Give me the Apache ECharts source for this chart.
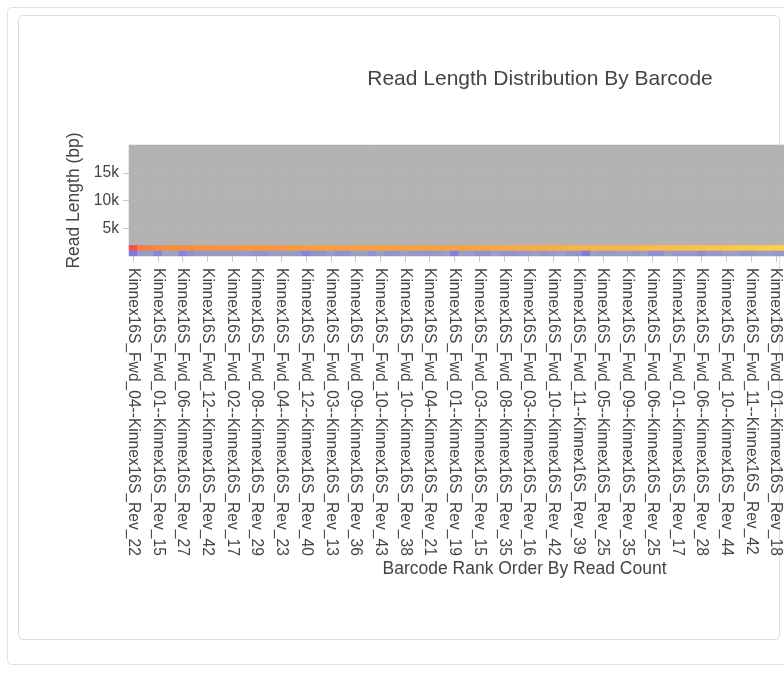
<!DOCTYPE html>
<html>
<head>
<meta charset="utf-8">
<script src="https://cdn.jsdelivr.net/npm/echarts@6/dist/echarts.min.js"></script>
<style>
  html, body { margin: 0; padding: 0; background: #fff; overflow: hidden; width: 784px; height: 687px; }
  .outer { position: absolute; left: 7px; top: 7px; width: 1200px; height: 658px; border: 1px solid #e2e2e2; border-radius: 5px; box-sizing: border-box; }
  .inner { position: absolute; left: 18px; top: 15px; width: 762px; height: 625px; border: 1px solid #dcdcdc; border-radius: 5px; box-sizing: border-box; }
  #chart { position: absolute; left: 0; top: 0; width: 1080px; height: 687px; z-index: 2; }
</style>
</head>
<body>
<div class="outer"></div>
<div class="inner"></div>
<div id="chart"></div>
<script>
// Barcodes in rank order by read count
const barcodes = [
  'Kinnex16S_Fwd_04--Kinnex16S_Rev_22','Kinnex16S_Fwd_07--Kinnex16S_Rev_31','Kinnex16S_Fwd_02--Kinnex16S_Rev_14',
  'Kinnex16S_Fwd_01--Kinnex16S_Rev_15','Kinnex16S_Fwd_05--Kinnex16S_Rev_20','Kinnex16S_Fwd_11--Kinnex16S_Rev_37',
  'Kinnex16S_Fwd_06--Kinnex16S_Rev_27','Kinnex16S_Fwd_09--Kinnex16S_Rev_33','Kinnex16S_Fwd_03--Kinnex16S_Rev_18',
  'Kinnex16S_Fwd_12--Kinnex16S_Rev_42','Kinnex16S_Fwd_08--Kinnex16S_Rev_30','Kinnex16S_Fwd_02--Kinnex16S_Rev_21',
  'Kinnex16S_Fwd_02--Kinnex16S_Rev_17','Kinnex16S_Fwd_07--Kinnex16S_Rev_26','Kinnex16S_Fwd_05--Kinnex16S_Rev_23',
  'Kinnex16S_Fwd_08--Kinnex16S_Rev_29','Kinnex16S_Fwd_10--Kinnex16S_Rev_40','Kinnex16S_Fwd_01--Kinnex16S_Rev_13',
  'Kinnex16S_Fwd_04--Kinnex16S_Rev_23','Kinnex16S_Fwd_11--Kinnex16S_Rev_45','Kinnex16S_Fwd_06--Kinnex16S_Rev_32',
  'Kinnex16S_Fwd_12--Kinnex16S_Rev_40','Kinnex16S_Fwd_09--Kinnex16S_Rev_34','Kinnex16S_Fwd_03--Kinnex16S_Rev_20',
  'Kinnex16S_Fwd_03--Kinnex16S_Rev_13','Kinnex16S_Fwd_07--Kinnex16S_Rev_28','Kinnex16S_Fwd_12--Kinnex16S_Rev_46',
  'Kinnex16S_Fwd_09--Kinnex16S_Rev_36','Kinnex16S_Fwd_05--Kinnex16S_Rev_19','Kinnex16S_Fwd_02--Kinnex16S_Rev_24',
  'Kinnex16S_Fwd_10--Kinnex16S_Rev_43','Kinnex16S_Fwd_08--Kinnex16S_Rev_31','Kinnex16S_Fwd_01--Kinnex16S_Rev_14',
  'Kinnex16S_Fwd_10--Kinnex16S_Rev_38','Kinnex16S_Fwd_06--Kinnex16S_Rev_26','Kinnex16S_Fwd_11--Kinnex16S_Rev_41',
  'Kinnex16S_Fwd_04--Kinnex16S_Rev_21','Kinnex16S_Fwd_07--Kinnex16S_Rev_30','Kinnex16S_Fwd_12--Kinnex16S_Rev_44',
  'Kinnex16S_Fwd_01--Kinnex16S_Rev_19','Kinnex16S_Fwd_05--Kinnex16S_Rev_24','Kinnex16S_Fwd_09--Kinnex16S_Rev_37',
  'Kinnex16S_Fwd_03--Kinnex16S_Rev_15','Kinnex16S_Fwd_06--Kinnex16S_Rev_29','Kinnex16S_Fwd_11--Kinnex16S_Rev_40',
  'Kinnex16S_Fwd_08--Kinnex16S_Rev_35','Kinnex16S_Fwd_02--Kinnex16S_Rev_16','Kinnex16S_Fwd_12--Kinnex16S_Rev_39',
  'Kinnex16S_Fwd_03--Kinnex16S_Rev_16','Kinnex16S_Fwd_04--Kinnex16S_Rev_24','Kinnex16S_Fwd_07--Kinnex16S_Rev_33',
  'Kinnex16S_Fwd_10--Kinnex16S_Rev_42','Kinnex16S_Fwd_05--Kinnex16S_Rev_21','Kinnex16S_Fwd_09--Kinnex16S_Rev_38',
  'Kinnex16S_Fwd_11--Kinnex16S_Rev_39','Kinnex16S_Fwd_02--Kinnex16S_Rev_18','Kinnex16S_Fwd_08--Kinnex16S_Rev_32',
  'Kinnex16S_Fwd_05--Kinnex16S_Rev_25','Kinnex16S_Fwd_12--Kinnex16S_Rev_47','Kinnex16S_Fwd_03--Kinnex16S_Rev_22',
  'Kinnex16S_Fwd_09--Kinnex16S_Rev_35','Kinnex16S_Fwd_06--Kinnex16S_Rev_30','Kinnex16S_Fwd_01--Kinnex16S_Rev_20',
  'Kinnex16S_Fwd_06--Kinnex16S_Rev_25','Kinnex16S_Fwd_10--Kinnex16S_Rev_41','Kinnex16S_Fwd_04--Kinnex16S_Rev_20',
  'Kinnex16S_Fwd_01--Kinnex16S_Rev_17','Kinnex16S_Fwd_07--Kinnex16S_Rev_27','Kinnex16S_Fwd_11--Kinnex16S_Rev_43',
  'Kinnex16S_Fwd_06--Kinnex16S_Rev_28','Kinnex16S_Fwd_02--Kinnex16S_Rev_22','Kinnex16S_Fwd_08--Kinnex16S_Rev_34',
  'Kinnex16S_Fwd_10--Kinnex16S_Rev_44','Kinnex16S_Fwd_04--Kinnex16S_Rev_19','Kinnex16S_Fwd_12--Kinnex16S_Rev_43',
  'Kinnex16S_Fwd_11--Kinnex16S_Rev_42','Kinnex16S_Fwd_05--Kinnex16S_Rev_22','Kinnex16S_Fwd_09--Kinnex16S_Rev_39',
  'Kinnex16S_Fwd_01--Kinnex16S_Rev_18','Kinnex16S_Fwd_03--Kinnex16S_Rev_17','Kinnex16S_Fwd_07--Kinnex16S_Rev_29',
  'Kinnex16S_Fwd_10--Kinnex16S_Rev_37','Kinnex16S_Fwd_02--Kinnex16S_Rev_19','Kinnex16S_Fwd_08--Kinnex16S_Rev_36',
  'Kinnex16S_Fwd_12--Kinnex16S_Rev_41','Kinnex16S_Fwd_04--Kinnex16S_Rev_18','Kinnex16S_Fwd_06--Kinnex16S_Rev_31',
  'Kinnex16S_Fwd_11--Kinnex16S_Rev_38','Kinnex16S_Fwd_05--Kinnex16S_Rev_26','Kinnex16S_Fwd_09--Kinnex16S_Rev_40',
  'Kinnex16S_Fwd_01--Kinnex16S_Rev_16','Kinnex16S_Fwd_03--Kinnex16S_Rev_14','Kinnex16S_Fwd_07--Kinnex16S_Rev_32',
  'Kinnex16S_Fwd_10--Kinnex16S_Rev_39','Kinnex16S_Fwd_02--Kinnex16S_Rev_23','Kinnex16S_Fwd_08--Kinnex16S_Rev_33'
];

// Read length bins (1 kb each, 0 - 20 kb)
const lengthBins = ['0-1k','1-2k','2-3k','3-4k','4-5k','5-6k','6-7k','7-8k','8-9k','9-10k',
  '10-11k','11-12k','12-13k','13-14k','14-15k','15-16k','16-17k','17-18k','18-19k','19-20k'];

// Relative read density in the 0-1 kb bin, per barcode
const density0to1k = [
  24,11,10,20,8,8,19,15,11,10,
  11,10,11,10,11,14,13,10,11,10,
  11,20,14,14,10,15,14,9,9,14,
  9,14,13,9,12,12,13,12,9,22,
  9,10,14,14,9,13,13,12,12,9,
  13,12,9,13,13,23,9,12,12,9,
  9,12,9,15,15,9,12,12,12,16,
  12,12,9,9,12,12,9,9,12,11,
  9,13,10,12,9,14,10,11,12,9,
  13,10,11,12,10,9
];

// Relative read density in the 1-2 kb bin, per barcode
const density1to2k = [
  100,84,83,78,78,77,77,77,76,76,
  76,75,75,75,74,74,74,74,73,73,
  73,73,72,72,72,72,71,71,71,71,
  71,71,71,71,70,70,70,70,70,70,
  70,69,69,68,68,67,67,66,66,66,
  66,65,65,64,64,64,63,63,63,62,
  62,62,61,61,60,60,59,59,58,58,
  57,57,56,56,55,55,54,53,53,52,
  52,51,51,50,50,49,49,48,48,47,
  47,46,46,45,45,44
];

// Y axis tick values (bp)
const yTicks = [5000, 10000, 15000];

const heatData = [];
for (let i = 0; i < barcodes.length; i++) {
  for (let j = 0; j < lengthBins.length; j++) {
    let v = 0;
    if (j === 0) v = density0to1k[i];
    else if (j === 1) v = density1to2k[i];
    heatData.push([i, j, v]);
  }
}

const FONT = '"Liberation Sans", Arial, sans-serif';
const chart = echarts.init(document.getElementById('chart'), null, { renderer: 'canvas' });
chart.setOption({
  animation: false,
  backgroundColor: 'transparent',
  title: {
    text: 'Read Length Distribution By Barcode',
    left: 'center',
    top: 64,
    textStyle: { fontFamily: FONT, fontSize: 21, fontWeight: 'normal', color: '#444' }
  },
  grid: { left: 129, top: 145, width: 791, height: 111, containLabel: false, show: true, backgroundColor: '#b3b3b3', borderWidth: 0 },
  visualMap: {
    show: false,
    type: 'continuous',
    min: 0,
    max: 100,
    seriesIndex: 0,
    inRange: { color: ['#b3b3b3', '#7878e4', '#ffd44a', '#f5963f', '#f54e4e'] }
  },
  xAxis: {
    type: 'category',
    data: barcodes,
    name: 'Barcode Rank Order By Read Count',
    nameLocation: 'middle',
    nameGap: 298,
    nameTextStyle: { fontFamily: FONT, fontSize: 17.5, color: '#444' },
    axisLine: { show: false },
    axisTick: { show: true, alignWithLabel: true, interval: 2, length: 6, lineStyle: { color: '#c8c8c8' } },
    axisLabel: { interval: 2, rotate: -90, margin: 12, fontFamily: FONT, fontSize: 15.6, color: '#444' },
    splitLine: { show: false }
  },
  yAxis: [
    {
      type: 'value',
      min: 0,
      max: 20000,
      interval: 5000,
      name: 'Read Length (bp)',
      nameLocation: 'middle',
      nameGap: 45,
      nameRotate: 90,
      nameTextStyle: { fontFamily: FONT, fontSize: 17.5, color: '#444' },
      axisLine: { show: false },
      axisTick: { show: true, length: 6, customValues: yTicks, lineStyle: { color: '#c8c8c8' } },
      axisLabel: {
        customValues: yTicks,
        margin: 10,
        fontFamily: FONT, fontSize: 15.6, color: '#444',
        formatter: function (v) { return (v / 1000) + 'k'; }
      },
      splitLine: { show: false }
    },
    {
      type: 'category',
      data: lengthBins,
      show: false,
      axisLine: { show: false },
      axisTick: { show: false },
      axisLabel: { show: false },
      splitLine: { show: false }
    }
  ],
  series: [{
    type: 'heatmap',
    xAxisIndex: 0,
    yAxisIndex: 1,
    data: heatData,
    progressive: 0,
    itemStyle: { borderWidth: 0 },
    emphasis: { disabled: true }
  }]
});
</script>
</body>
</html>
